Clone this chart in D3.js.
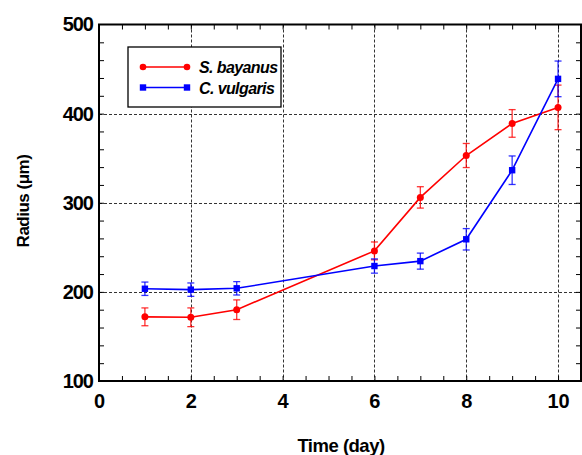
<!DOCTYPE html>
<html>
<head>
<meta charset="utf-8">
<style>
  body { margin: 0; background: #fff; }
  text { font-family: "Liberation Sans", Arial, sans-serif; font-weight: bold; }
</style>
</head>
<body>
<svg width="582" height="455"></svg>
<script src="https://d3js.org/d3.v7.min.js"></script>
<script>
// data
var days = [1, 2, 3, 6, 7, 8, 9, 10];
var bayanus = [172, 171.5, 180, 246, 306, 353, 389, 407];
var bayanusErr = [10, 10.5, 11, 10, 12, 13.5, 15.5, 25];
var vulgaris = [203.5, 202.5, 204, 229, 234.5, 259, 336.5, 439];
var vulgarisErr = [7.5, 7.5, 7.5, 8, 9, 12, 16, 20];
var xTicks = [0, 2, 4, 6, 8, 10];
var yTicks = [100, 200, 300, 400, 500];
var seriesNames = ["S. bayanus", "C. vulgaris"];

var svg = d3.select("svg");
var pLeft = 99, pRight = 581, pTop = 24.5, pBottom = 381;

var x = d3.scaleLinear().domain([0, 10.5]).range([pLeft, pRight]);
var y = d3.scaleLinear().domain([100, 500]).range([pBottom, pTop]);

//grid lines
var grid = svg.append("g").attr("stroke", "#333").attr("stroke-width", 1).attr("stroke-dasharray", "3,2");
grid.selectAll(".gx").data(xTicks.slice(1)).enter().append("line")
    .attr("x1", function(d) { return Math.round(x(d)) + 0.5; })
    .attr("x2", function(d) { return Math.round(x(d)) + 0.5; })
    .attr("y1", pTop).attr("y2", pBottom);
grid.selectAll(".gy").data(yTicks.slice(1, -1)).enter().append("line")
    .attr("y1", function(d) { return Math.round(y(d)) + 0.5; })
    .attr("y2", function(d) { return Math.round(y(d)) + 0.5; })
    .attr("x1", pLeft).attr("x2", pRight);

//minor ticks, inward on all four sides
var xMinor = d3.range(0, 10.5, 0.5);
var yMinor = d3.range(100, 500, 20);
svg.append("g").attr("transform", "translate(0," + pBottom + ")")
    .call(d3.axisTop(x).tickValues(xMinor).tickSize(5).tickFormat(""))
    .call(function(g) { g.select(".domain").remove(); });
svg.append("g").attr("transform", "translate(0," + pTop + ")")
    .call(d3.axisBottom(x).tickValues(xMinor).tickSize(5).tickFormat(""))
    .call(function(g) { g.select(".domain").remove(); });
svg.append("g").attr("transform", "translate(" + pLeft + ",0)")
    .call(d3.axisRight(y).tickValues(yMinor).tickSize(5).tickFormat(""))
    .call(function(g) { g.select(".domain").remove(); });
svg.append("g").attr("transform", "translate(" + pRight + ",0)")
    .call(d3.axisLeft(y).tickValues(yMinor).tickSize(5).tickFormat(""))
    .call(function(g) { g.select(".domain").remove(); });

//tick labels
svg.append("g").attr("transform", "translate(0," + pBottom + ")")
    .call(d3.axisBottom(x).tickValues(xTicks).tickSize(0).tickPadding(13))
    .call(function(g) {
      g.select(".domain").remove();
      g.selectAll("text").attr("font-size", 20).attr("fill", "#000").attr("font-family", null);
    });
svg.append("g").attr("transform", "translate(" + pLeft + ",0)")
    .call(d3.axisLeft(y).tickValues(yTicks).tickSize(0).tickPadding(6))
    .call(function(g) {
      g.select(".domain").remove();
      g.selectAll("text").attr("font-size", 20).attr("fill", "#000").attr("font-family", null).attr("letter-spacing", -1);
    });

//frame
svg.append("rect").attr("x", pLeft).attr("y", pTop)
    .attr("width", pRight - pLeft).attr("height", pBottom - pTop)
    .attr("fill", "none").attr("stroke", "#000").attr("stroke-width", 2);

//axis titles
svg.append("text").attr("x", 341).attr("y", 452).attr("text-anchor", "middle")
    .attr("font-size", 18.5).attr("letter-spacing", -0.5).text("Time (day)");
svg.append("text").attr("transform", "translate(29,201) rotate(-90)").attr("text-anchor", "middle")
    .attr("font-size", 17).attr("letter-spacing", -0.5).text("Radius (\u03bcm)");

function drawSeries(vals, errs, color, square) {
  var g = svg.append("g");
  var line = d3.line().x(function(d, i) { return x(days[i]); }).y(function(d) { return y(d); });
  g.append("path").datum(vals).attr("d", line)
      .attr("fill", "none").attr("stroke", color).attr("stroke-width", 1.6);
  var eb = g.selectAll(".eb").data(vals).enter().append("g")
      .attr("stroke", color).attr("stroke-width", 1.3).attr("stroke-opacity", 0.8);
  eb.append("line")
      .attr("x1", function(d, i) { return x(days[i]); }).attr("x2", function(d, i) { return x(days[i]); })
      .attr("y1", function(d, i) { return y(d - errs[i]); }).attr("y2", function(d, i) { return y(d + errs[i]); });
  [-1, 1].forEach(function(s) {
    eb.append("line")
        .attr("x1", function(d, i) { return x(days[i]) - 3.5; }).attr("x2", function(d, i) { return x(days[i]) + 3.5; })
        .attr("y1", function(d, i) { return y(d + s * errs[i]); }).attr("y2", function(d, i) { return y(d + s * errs[i]); });
  });
  if (square) {
    g.selectAll(".m").data(vals).enter().append("rect")
        .attr("x", function(d, i) { return x(days[i]) - 3.2; })
        .attr("y", function(d) { return y(d) - 3.2; })
        .attr("width", 6.4).attr("height", 6.4).attr("fill", color);
  } else {
    g.selectAll(".m").data(vals).enter().append("circle")
        .attr("cx", function(d, i) { return x(days[i]); })
        .attr("cy", function(d) { return y(d); })
        .attr("r", 3.5).attr("fill", color);
  }
}
drawSeries(bayanus, bayanusErr, "#ff0000", false);
drawSeries(vulgaris, vulgarisErr, "#0000ff", true);

//legend
var lg = svg.append("g");
lg.append("rect").attr("x", 128).attr("y", 47).attr("width", 153).attr("height", 60)
    .attr("fill", "#fff").attr("stroke", "#000").attr("stroke-width", 1.3);
var colors = ["#ff0000", "#0000ff"];
seriesNames.forEach(function(name, i) {
  var ly = 67 + i * 20.5;
  lg.append("line").attr("x1", 143).attr("x2", 187).attr("y1", ly).attr("y2", ly)
      .attr("stroke", colors[i]).attr("stroke-width", 1.6);
  [143, 187].forEach(function(mx) {
    if (i === 0) lg.append("circle").attr("cx", mx).attr("cy", ly).attr("r", 3.3).attr("fill", colors[i]);
    else lg.append("rect").attr("x", mx - 3.2).attr("y", ly - 3.2).attr("width", 6.4).attr("height", 6.4).attr("fill", colors[i]);
  });
  lg.append("text").attr("x", 199).attr("y", ly + 6).attr("font-size", 16).attr("font-style", "italic")
      .attr("letter-spacing", -0.6).text(name);
});
</script>
</body>
</html>
